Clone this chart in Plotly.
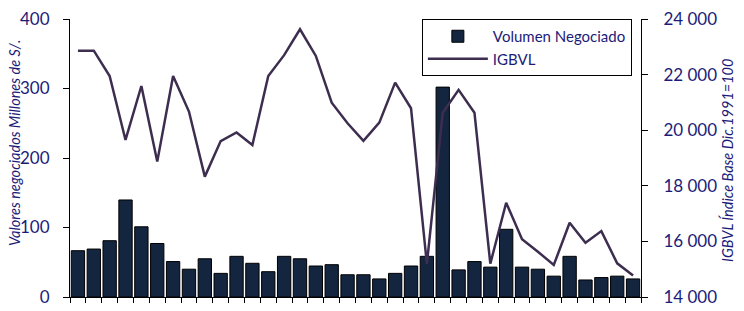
import plotly.graph_objects as go

months = [f"M{i:02d}" for i in range(1, 37)]

volumen = [66.6, 69, 81, 139.6, 101, 77, 51, 40, 55, 34, 58.5, 48.5,
           36.4, 58.5, 55, 44.6, 46.5, 32, 32, 26, 34, 44.6, 58.5, 302,
           39, 51, 43, 97.4, 43, 40, 30, 58.5, 24.5, 28, 30, 26]

igbvl = [22860, 22860, 21950, 19650, 21590, 18870, 21950, 20670, 18330, 19610, 19920, 19470,
         21950, 22700, 23630, 22670, 20990, 20250, 19620, 20270, 21710, 20790, 15190, 20630,
         21450, 20630, 15200, 17390, 16075, 15630, 15150, 16670, 15950, 16370, 15210, 14770]

left_title = "Valores negociados Millones de S/."
right_title = "IGBVL Índice Base Dic.1991=100"

navy = "#1c1c78"
font_family = "Lato, 'Open Sans', sans-serif"

fig = go.Figure()
fig.add_trace(go.Bar(
    x=months, y=volumen, name="Volumen Negociado",
    marker=dict(color="#14253f", line=dict(color="#000000", width=1)),
    yaxis="y",
))
fig.add_trace(go.Scatter(
    x=months, y=igbvl, name="IGBVL", mode="lines",
    line=dict(color="#3d2e50", width=2.5),
    yaxis="y2",
))

fig.update_layout(
    width=744, height=311,
    margin=dict(l=70, r=103, t=19, b=14, autoexpand=False),
    plot_bgcolor="white", paper_bgcolor="white",
    separators=". ",
    font=dict(family=font_family, color=navy),
    bargap=0.16,
    showlegend=True,
    legend=dict(
        x=0.984, y=1.0, xanchor="right", yanchor="top",
        bordercolor="#000000", borderwidth=1,
        font=dict(size=15, color=navy),
        itemwidth=60, bgcolor="white",
        tracegroupgap=4,
    ),
    xaxis=dict(
        showticklabels=False, showline=True, linecolor="#000000", linewidth=1,
        ticks="outside", ticklen=5, tickcolor="#000000", tickson="boundaries",
        showgrid=False, zeroline=False, automargin=False,
    ),
    yaxis=dict(
        range=[0, 400], tickvals=[0, 100, 200, 300, 400],
        showline=True, linecolor="#000000", linewidth=1,
        ticks="outside", ticklen=6, tickcolor="#000000",
        showgrid=False, zeroline=False, automargin=False,
        tickfont=dict(size=17, color=navy), ticklabelstandoff=10,
    ),
    yaxis2=dict(
        range=[14000, 24000], tickvals=[14000, 16000, 18000, 20000, 22000, 24000],
        overlaying="y", side="right",
        showline=True, linecolor="#000000", linewidth=1,
        ticks="outside", ticklen=6, tickcolor="#000000",
        showgrid=False, zeroline=False, tickformat=",d", automargin=False,
        tickfont=dict(size=17, color=navy), ticklabelstandoff=12,
    ),
    annotations=[
        dict(text=f"<i>{left_title}</i>", xref="paper", yref="paper",
             x=-0.0963, y=0.554, xanchor="center", yanchor="middle",
             textangle=-90, showarrow=False, font=dict(size=14.5, color=navy)),
        dict(text=f"<i>{right_title}</i>", xref="paper", yref="paper",
             x=1.1506, y=0.493, xanchor="center", yanchor="middle",
             textangle=-90, showarrow=False, font=dict(size=14.5, color=navy)),
    ],
)

fig.write_html("out.html", config={"displayModeBar": False},
               post_script="document.body.style.margin='0';")
